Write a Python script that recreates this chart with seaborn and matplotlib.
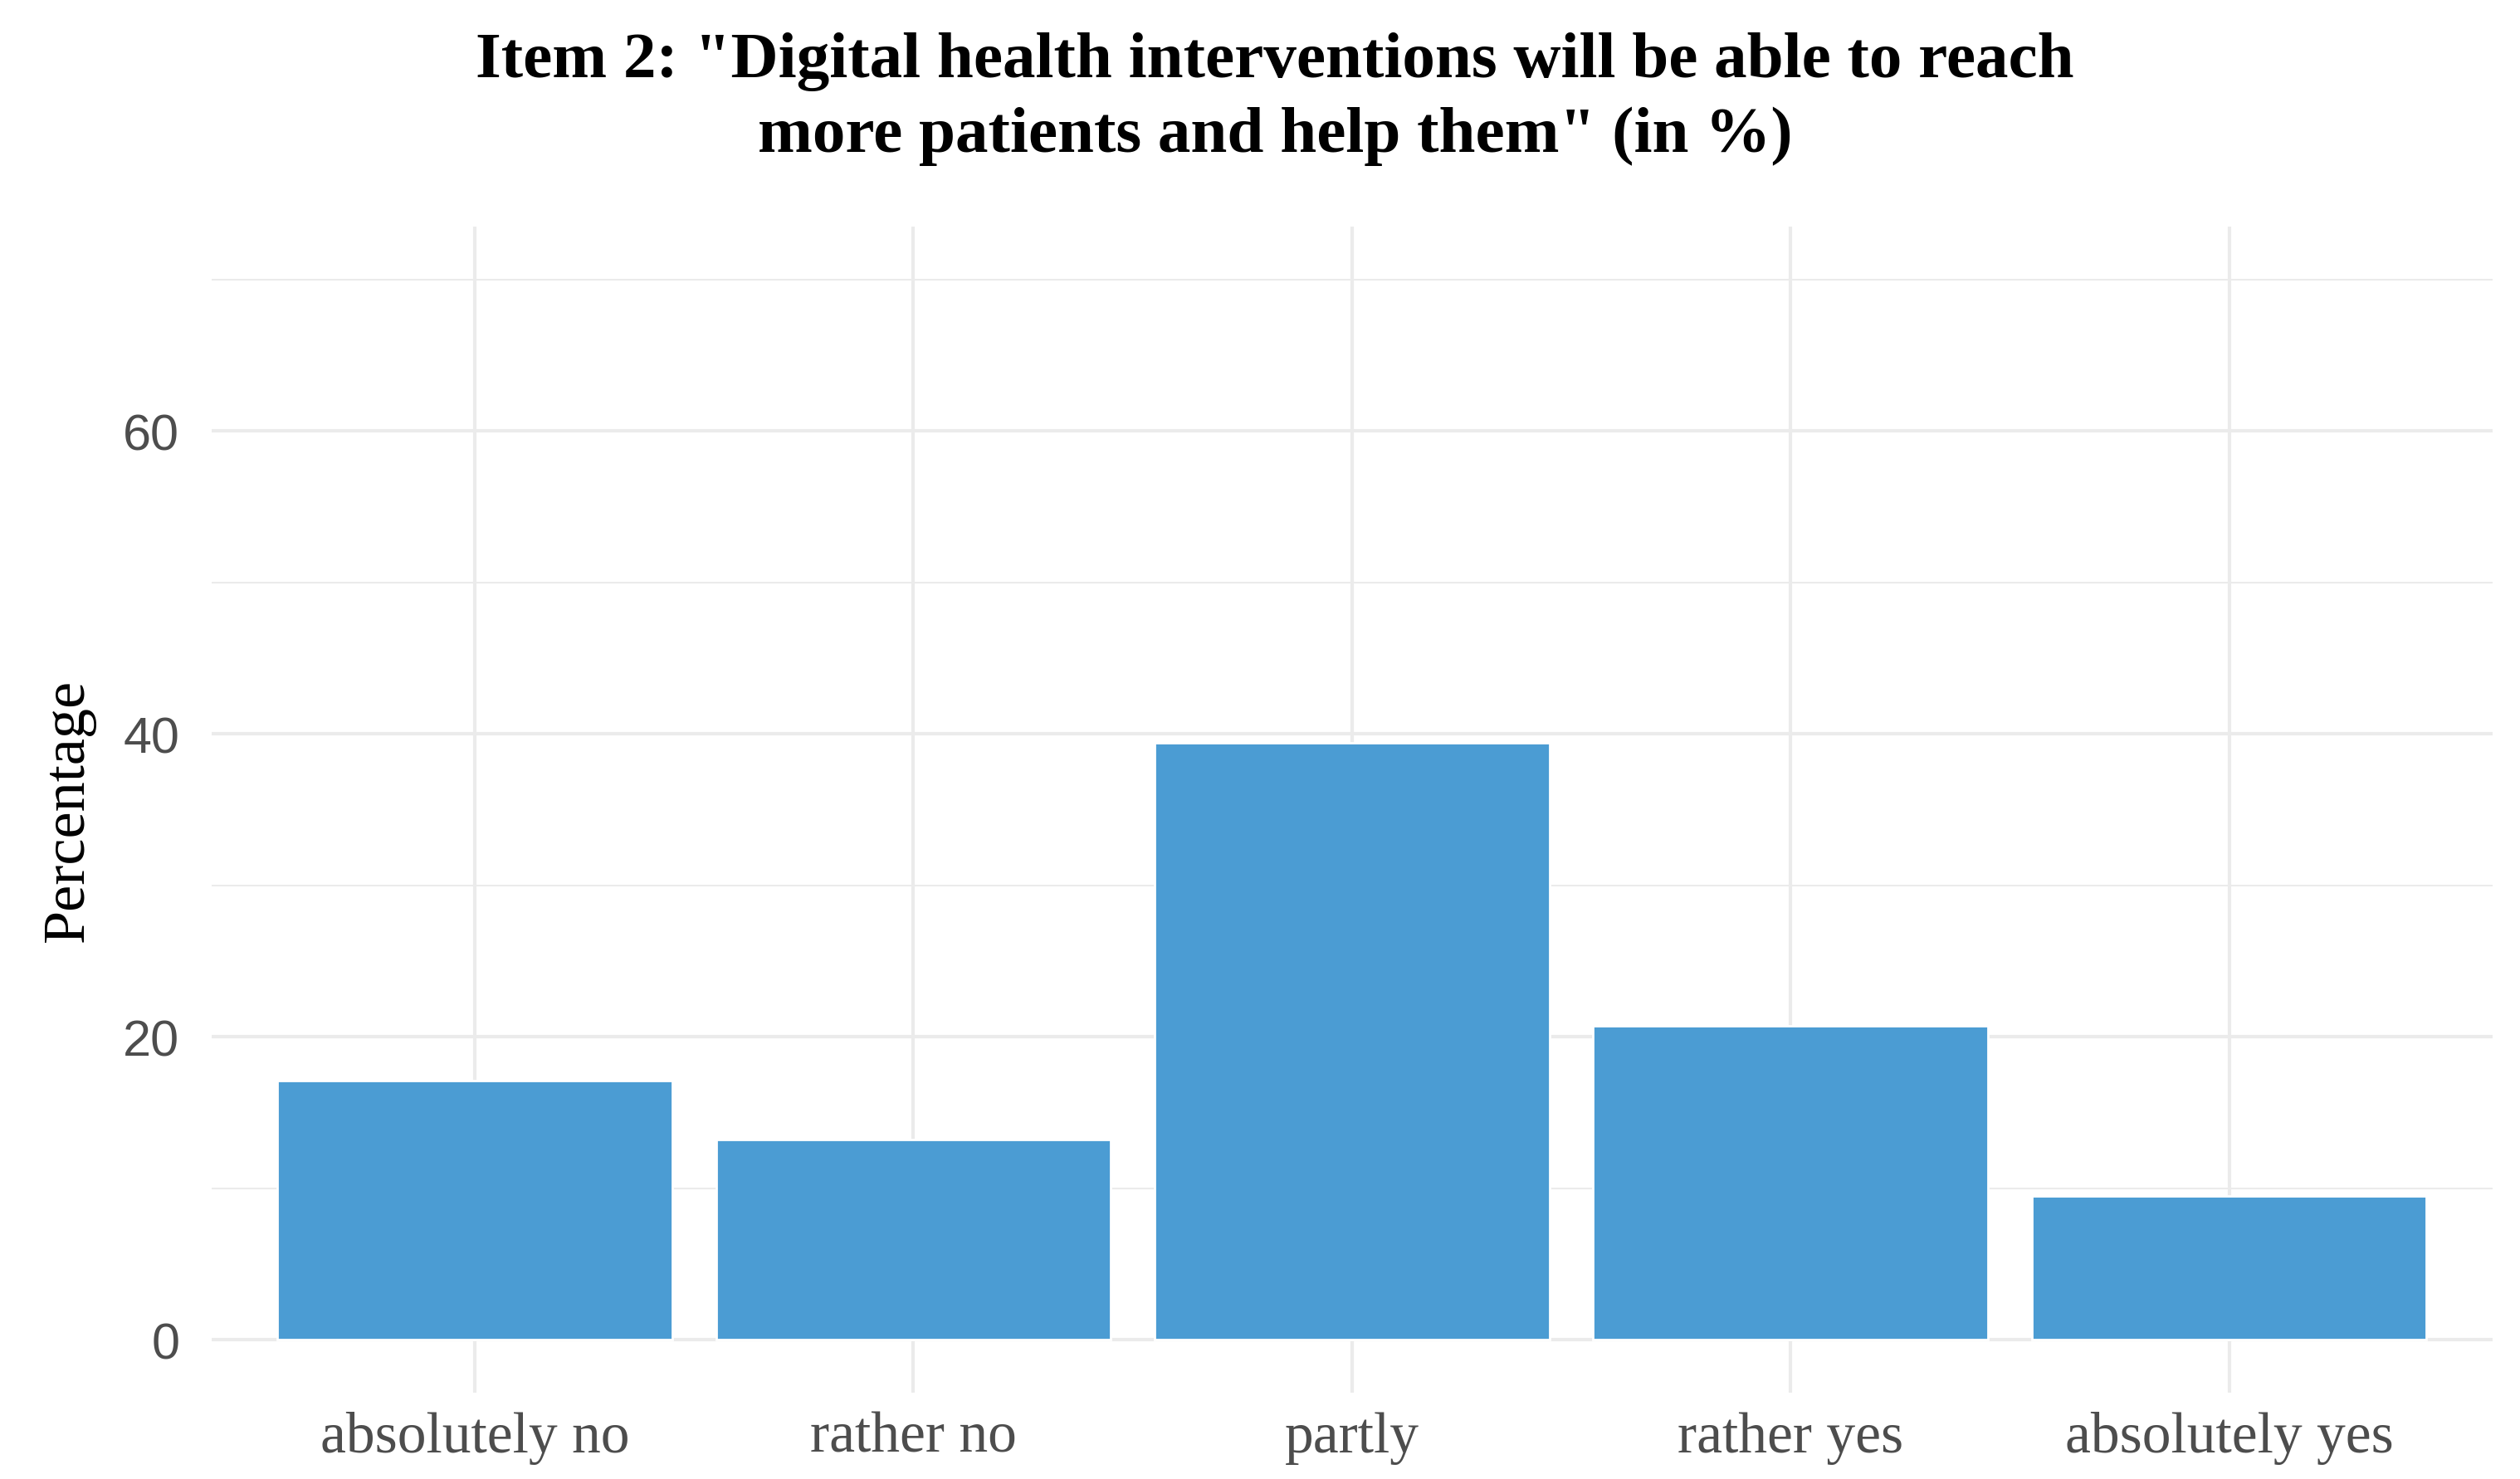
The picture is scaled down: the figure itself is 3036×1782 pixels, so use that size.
import pandas as pd
import matplotlib.pyplot as plt
import seaborn as sns
from matplotlib.ticker import MultipleLocator

# Data
answers = ["absolutely no", "rather no", "partly", "rather yes", "absolutely yes"]
percent = [17.1, 13.2, 39.4, 20.7, 9.5]
y_ticks = [0, 20, 40, 60]

df = pd.DataFrame({"answer": answers, "pct": percent})

sns.set_style("white")
plt.rcParams['font.family'] = ['Liberation Serif', 'DejaVu Serif']

fig = plt.figure(figsize=(15.18, 8.915), dpi=200)
ax = fig.add_axes([0.084, 0.0583, 0.905, 0.788])

sns.barplot(data=df, x="answer", y="pct", color="#4b9cd3", saturation=1,
            width=0.9, ax=ax, zorder=3)

ax.set_xlim(-0.6, 4.6)
ax.set_ylim(-3.5, 73.5)
ax.set_yticks(y_ticks)
ax.yaxis.set_minor_locator(MultipleLocator(10))
ax.grid(True, which="major", axis="both", color="#ebebeb", linewidth=1.5, zorder=0)
ax.grid(True, which="minor", axis="y", color="#ebebeb", linewidth=0.75, zorder=0)
ax.set_axisbelow(True)
for side in ax.spines.values():
    side.set_visible(False)
ax.tick_params(which="both", length=0)
ax.tick_params(axis="x", pad=8, labelsize=25, labelcolor="#4d4d4d")
ax.tick_params(axis="y", pad=14, labelcolor="#4d4d4d")
for lab in ax.get_yticklabels():
    lab.set_family(["Liberation Sans", "DejaVu Sans"])
    lab.set_fontsize(22)

ax.set_xlabel("")
ax.set_ylabel("Percentage", fontsize=26, labelpad=12, color="black")

fig.text(0.506, 0.933,
         "Item 2: \"Digital health interventions will be able to reach\n"
         "more patients and help them\" (in %)",
         ha="center", va="center", fontsize=28.5, fontweight="bold",
         linespacing=1.35, color="black")

fig.savefig("out.png", dpi=200)
